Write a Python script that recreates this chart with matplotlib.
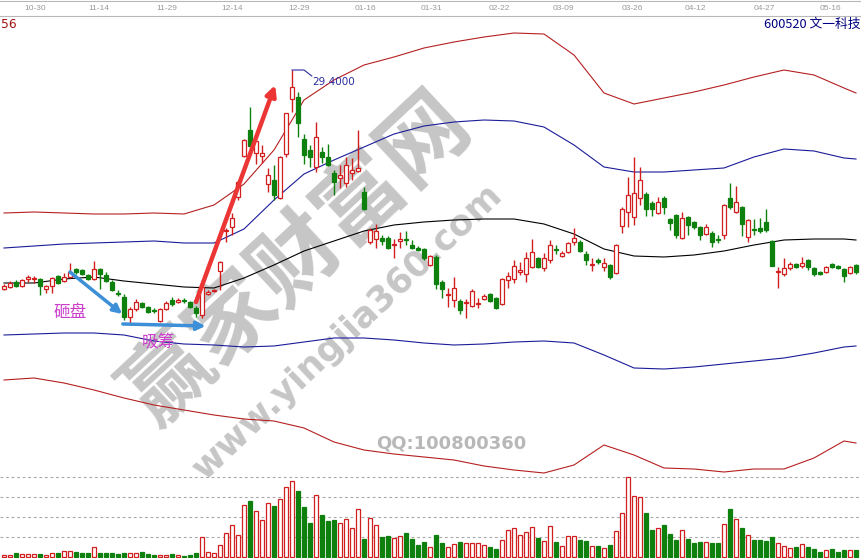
import matplotlib
matplotlib.use('Agg')
import matplotlib.pyplot as plt
from matplotlib.lines import Line2D
from matplotlib.transforms import blended_transform_factory
import numpy as np

plt.rcParams['font.family'] = ['Noto Sans CJK SC', 'DejaVu Sans']

# daily candles, oldest first
opens = [20.64, 20.72, 20.92, 20.76, 21.04, 21.04, 21.04, 20.64, 20.76, 21.16,
         20.96, 21.12, 21.44, 21.40, 21.20, 21.04, 21.44, 21.20, 20.92, 20.48,
         20.32, 19.52, 19.84, 20.08, 19.92, 19.80, 19.36, 19.84, 20.20, 20.12,
         20.20, 20.12, 19.88, 19.60, 20.44, 20.56, 21.36, 22.96, 23.12, 24.32,
         25.96, 27.00, 26.08, 25.96, 24.84, 25.00, 24.28, 26.04, 28.24, 28.32,
         26.64, 26.20, 25.52, 26.12, 25.92, 25.28, 25.08, 24.88, 25.28, 25.36,
         24.52, 22.52, 22.64, 22.68, 22.68, 22.40, 22.56, 22.64, 22.40, 22.28,
         22.24, 21.60, 21.92, 20.92, 20.40, 20.20, 20.16, 20.08, 19.96, 20.04,
         20.24, 20.44, 20.28, 20.04, 21.00, 21.04, 21.32, 21.24, 21.52, 21.88,
         21.48, 21.80, 22.24, 21.96, 22.12, 22.52, 22.52, 22.04, 21.60, 21.80,
         21.52, 21.60, 21.28, 23.16, 23.72, 23.52, 24.28, 24.44, 24.08, 23.68,
         24.28, 23.44, 23.60, 22.68, 23.52, 23.32, 23.12, 22.84, 22.88, 22.64,
         22.80, 24.28, 23.72, 23.92, 22.72, 23.04, 23.08, 23.32, 22.56, 21.32,
         21.24, 21.48, 21.64, 21.56, 21.80, 21.48, 21.32, 21.32, 21.64, 21.56,
         21.44, 21.28, 21.60]
highs = [20.84, 20.96, 21.00, 21.04, 21.20, 21.16, 21.08, 20.80, 21.12, 21.20,
         21.28, 21.68, 21.48, 21.44, 21.24, 21.76, 21.48, 21.32, 21.00, 20.60,
         20.44, 19.92, 20.24, 20.12, 19.96, 19.88, 19.88, 20.16, 20.32, 20.28,
         20.28, 20.16, 19.96, 20.72, 20.60, 20.64, 21.76, 23.08, 23.68, 25.00,
         26.64, 27.92, 26.60, 26.40, 25.48, 25.60, 25.96, 27.68, 29.40, 28.52,
         26.84, 26.40, 27.32, 26.32, 26.44, 25.40, 25.60, 25.92, 25.88, 27.00,
         24.72, 23.08, 23.24, 22.80, 22.76, 22.64, 22.92, 22.96, 22.60, 22.36,
         22.28, 22.00, 22.00, 21.00, 20.68, 21.12, 20.24, 20.24, 20.64, 20.28,
         20.44, 20.48, 20.32, 21.08, 21.32, 21.80, 21.72, 22.12, 22.64, 21.92,
         22.08, 22.60, 22.40, 22.16, 22.52, 23.08, 22.60, 22.16, 21.88, 21.88,
         21.88, 21.64, 22.44, 23.92, 25.12, 25.92, 25.52, 24.52, 24.16, 24.32,
         24.36, 23.48, 23.64, 23.72, 23.56, 23.36, 23.16, 23.24, 22.96, 22.80,
         24.04, 24.88, 24.76, 23.96, 23.44, 23.44, 23.48, 23.84, 22.60, 21.52,
         21.88, 21.72, 21.68, 21.92, 21.84, 21.52, 21.36, 21.56, 21.68, 21.60,
         21.48, 21.56, 21.64]
lows = [20.60, 20.68, 20.72, 20.72, 20.92, 20.88, 20.40, 20.48, 20.48, 20.84,
        20.92, 21.08, 21.24, 21.20, 21.00, 21.00, 20.64, 20.92, 20.56, 20.36,
        19.40, 19.24, 19.76, 19.88, 19.68, 19.68, 19.32, 19.80, 19.96, 20.08,
        20.08, 19.88, 19.52, 19.48, 20.40, 20.52, 20.60, 22.52, 22.80, 24.20,
        25.92, 26.32, 25.64, 25.68, 24.52, 24.20, 24.24, 25.92, 27.72, 26.72,
        25.64, 25.52, 25.32, 25.68, 25.56, 24.40, 24.68, 24.72, 25.00, 25.32,
        23.80, 22.44, 22.28, 22.40, 22.24, 21.88, 22.28, 22.40, 22.24, 22.16,
        21.80, 21.56, 20.64, 20.28, 19.92, 19.92, 19.64, 19.48, 19.92, 19.88,
        20.20, 20.12, 19.84, 20.00, 20.68, 20.88, 21.20, 20.92, 21.48, 21.48,
        21.36, 21.68, 22.04, 21.92, 22.08, 22.40, 22.12, 21.60, 21.36, 21.64,
        21.36, 21.04, 21.24, 22.88, 23.12, 23.20, 24.00, 23.56, 23.56, 23.64,
        23.64, 23.00, 22.68, 22.64, 22.80, 23.04, 22.60, 22.80, 22.32, 22.48,
        22.64, 23.84, 23.68, 22.76, 22.52, 22.80, 22.88, 22.92, 21.56, 20.68,
        21.16, 21.40, 21.48, 21.48, 21.40, 21.16, 21.20, 21.28, 21.48, 21.44,
        20.92, 21.24, 21.24]
closes = [20.76, 20.88, 20.76, 21.00, 21.12, 21.08, 20.76, 20.76, 21.08, 20.88,
          21.12, 21.32, 21.32, 21.24, 21.04, 21.44, 21.24, 20.96, 20.60, 20.44,
          19.52, 19.84, 20.12, 19.92, 19.72, 19.76, 19.84, 20.08, 20.04, 20.20,
          20.16, 19.92, 19.68, 20.72, 20.52, 20.60, 21.72, 23.00, 23.48, 24.92,
          26.60, 26.36, 26.56, 26.08, 25.20, 24.40, 25.92, 27.68, 28.72, 27.28,
          26.00, 25.92, 26.72, 25.92, 25.60, 24.92, 25.20, 25.60, 25.40, 25.48,
          23.84, 23.00, 22.96, 22.56, 22.28, 22.44, 22.64, 22.60, 22.28, 22.20,
          21.88, 21.96, 20.84, 20.64, 20.44, 20.68, 19.80, 20.12, 20.56, 20.08,
          20.36, 20.16, 19.88, 21.04, 21.16, 21.56, 21.40, 21.88, 22.12, 21.52,
          21.88, 22.40, 22.20, 22.08, 22.48, 22.68, 22.16, 21.80, 21.64, 21.72,
          21.68, 21.12, 22.40, 23.84, 24.40, 24.48, 25.00, 23.84, 23.84, 24.12,
          23.92, 23.28, 22.80, 23.48, 23.20, 23.12, 22.80, 23.12, 22.52, 22.60,
          24.00, 23.92, 24.12, 23.24, 23.40, 23.00, 22.96, 23.00, 21.56, 21.36,
          21.48, 21.64, 21.52, 21.68, 21.52, 21.24, 21.24, 21.52, 21.52, 21.48,
          21.16, 21.52, 21.32]
volumes = [0.2, 0.2, 0.4, 0.3, 0.3, 0.3, 0.3, 0.2, 0.4, 0.4,
           0.6, 0.6, 0.5, 0.4, 0.4, 1.0, 0.4, 0.4, 0.4, 0.3,
           0.4, 0.4, 0.4, 0.5, 0.3, 0.2, 0.2, 0.2, 0.3, 0.2,
           0.1, 0.2, 0.4, 2.0, 0.5, 0.4, 1.2, 2.4, 3.2, 2.2,
           5.2, 5.6, 4.6, 3.7, 5.4, 5.1, 5.8, 7.0, 7.6, 6.6,
           5.0, 3.4, 6.2, 4.2, 3.6, 3.7, 3.4, 3.8, 2.9, 4.8,
           1.8, 3.9, 3.2, 2.0, 2.1, 1.9, 2.1, 2.4, 1.8, 1.2,
           1.5, 1.0, 2.17, 1.37, 0.97, 1.27, 1.47, 1.37, 1.37, 1.37,
           1.17, 0.97, 0.77, 1.67, 2.67, 2.87, 2.17, 2.47, 2.97, 1.87,
           1.57, 3.07, 1.47, 1.07, 2.07, 2.07, 1.67, 1.57, 1.07, 1.07,
           0.87, 1.17, 2.57, 4.37, 7.97, 6.07, 5.97, 4.37, 2.67, 2.87,
           3.17, 2.27, 1.67, 2.67, 1.77, 1.37, 1.47, 1.47, 1.37, 1.37,
           3.27, 4.77, 3.77, 2.87, 2.17, 1.67, 1.67, 1.57, 1.97, 1.37,
           1.07, 0.87, 0.97, 1.27, 0.97, 0.77, 0.47, 0.67, 0.77, 0.47,
           0.67, 0.67, 0.67]

# band lines read every 5 sessions
band_idx = [0, 5, 10, 15, 20, 25, 30, 35, 40, 45, 50, 55, 60, 65, 70,
            75, 80, 85, 90, 95, 100, 105, 110, 115, 120, 125, 130, 135, 140, 142]
upper_red = [23.68, 23.72, 23.68, 23.64, 23.64, 23.68, 23.64, 24.00, 24.84, 26.20,
             28.20, 29.00, 29.60, 29.92, 30.28, 30.52, 30.72, 30.88, 30.84, 30.00,
             28.48, 28.04, 28.28, 28.52, 28.80, 29.12, 29.40, 29.20, 28.68, 28.48]
upper_blue = [22.28, 22.36, 22.44, 22.48, 22.52, 22.56, 22.48, 22.48, 23.04, 24.20,
              25.24, 25.80, 26.32, 26.84, 27.16, 27.32, 27.40, 27.36, 27.12, 26.40,
              25.52, 25.32, 25.32, 25.40, 25.48, 25.92, 26.24, 26.16, 25.88, 25.84]
middle = [20.88, 20.88, 21.04, 21.12, 20.96, 20.84, 20.72, 20.68, 21.08, 21.60,
          22.16, 22.56, 22.96, 23.20, 23.32, 23.40, 23.44, 23.44, 23.24, 22.84,
          22.24, 21.96, 21.92, 22.00, 22.16, 22.40, 22.60, 22.64, 22.64, 22.60]
lower_blue = [18.80, 18.84, 18.88, 18.88, 18.80, 18.56, 18.44, 18.40, 18.32, 18.36,
              18.52, 18.68, 18.68, 18.60, 18.48, 18.40, 18.44, 18.52, 18.56, 18.48,
              18.00, 17.48, 17.44, 17.52, 17.64, 17.76, 17.88, 18.08, 18.32, 18.36]
lower_red = [17.00, 17.08, 16.88, 16.60, 16.28, 16.00, 15.80, 15.60, 15.44, 15.36,
             15.08, 14.52, 14.20, 14.04, 13.92, 13.80, 13.56, 13.40, 13.28, 13.60,
             14.40, 14.00, 13.48, 13.44, 13.32, 13.44, 13.44, 13.88, 14.56, 14.48]

date_labels = ['10-30', '11-14', '11-29', '12-14', '12-29', '01-16', '01-31',
               '02-22', '03-09', '03-26', '04-12', '04-27', '05-16']
date_pos = [5.2, 15.8, 27.2, 38.0, 49.2, 60.2, 71.2, 82.5, 93.3, 104.8, 115.3, 126.7, 137.8]

RED = '#d11f1f'
GREEN = '#0d800d'

W, H = 862, 558
fig = plt.figure(figsize=(W / 100, H / 100), dpi=100)
ax = fig.add_axes([0, 83 / H, 1, 460 / H])
axv = fig.add_axes([0, 0, 1, 83 / H])
for a in (ax, axv):
    a.axis('off')
    a.patch.set_alpha(0)
    a.set_xlim(-4 / 6, 858 / 6)
ax.set_ylim(13.2, 31.6)
axv.set_ylim(-0.1, 8.2)

o = np.array(opens)
c = np.array(closes)
h = np.array(highs)
l = np.array(lows)
idx = np.arange(len(c))
up = c >= o
edge = np.where(up, RED, GREEN)
face = np.where(up, 'white', GREEN)

# bands
ax.plot(band_idx, upper_red, color='#b52020', lw=0.8, zorder=2)
ax.plot(band_idx, lower_red, color='#b52020', lw=0.8, zorder=2)
ax.plot(band_idx, upper_blue, color='#1c1c9a', lw=0.8, zorder=2)
ax.plot(band_idx, lower_blue, color='#1c1c9a', lw=0.8, zorder=2)
ax.plot(band_idx, middle, color='black', lw=0.8, zorder=2)

# candles
ax.vlines(idx, l, h, colors=edge, lw=1, zorder=3)
body = np.maximum(np.abs(c - o), 0.02)
ax.bar(idx, body, bottom=np.minimum(o, c), width=0.67, color=face,
       edgecolor=edge, lw=0.9, zorder=4)

# high label
top = int(np.argmax(h))
ax.plot([top, top + 2, top + 3.3], [h[top], h[top], h[top] - 0.24],
        color='#2a2aa0', lw=0.8, zorder=5)
ax.text(top + 3.4, h[top] - 0.48, '%.4f' % h[top], color='#2a2aa0',
        fontsize=7.5, family='DejaVu Sans', va='center', ha='left', zorder=5)

# arrows and notes
ax.annotate('', xy=(19.7, 19.64), xytext=(11.0, 21.32),
            arrowprops=dict(arrowstyle='-|>', color='#3d8fd8', lw=2.5,
                            mutation_scale=13, shrinkA=0, shrinkB=0), zorder=6)
ax.annotate('', xy=(33.6, 19.16), xytext=(19.8, 19.24),
            arrowprops=dict(arrowstyle='-|>', color='#3d8fd8', lw=2.5,
                            mutation_scale=13, shrinkA=0, shrinkB=0), zorder=6)
ax.annotate('', xy=(45.2, 28.8), xytext=(32.0, 20.12),
            arrowprops=dict(arrowstyle='-|>', color='#ec3535', lw=3.2,
                            mutation_scale=15, shrinkA=0, shrinkB=0), zorder=6)
ax.text(11.0, 19.68, '砸盘', color='#cc3fcc', fontsize=12, ha='center', va='center', zorder=6)
ax.text(25.7, 18.48, '吸筹', color='#cc3fcc', fontsize=12, ha='center', va='center', zorder=6)

# volume
for v in (2, 4, 6, 8):
    axv.axhline(v, color='#a8a8a8', lw=0.8, ls=(0, (2.5, 2.5)), zorder=1)
axv.bar(idx, volumes, width=0.72, color=face, edgecolor=edge, lw=0.9, zorder=3)

# header
fig.add_artist(Line2D([0, 1], [1 - 15.5 / H] * 2, color='#b8b8b8', lw=0.8))
fig.add_artist(Line2D([0, 1], [1 - 0.5 / H] * 2, color='#b8b8b8', lw=0.8))
tr = blended_transform_factory(ax.transData, fig.transFigure)
for p, s in zip(date_pos, date_labels):
    ax.text(p, 1 - 9 / H, s, transform=tr, color='#9a9a9a', fontsize=6,
            family='Liberation Sans', ha='center', va='center', clip_on=False)
fig.text(1 - 1 / W, 1 - 24 / H, '600520 文一科技', color='#000080',
         fontsize=9.2, ha='right', va='center')
fig.text(1 / W, 1 - 24 / H, '56', color='#a01010', fontsize=8.8,
         family='DejaVu Sans', ha='left', va='center')

# watermark
fig.text(0.346, 0.536, '赢家财富网', rotation=43, fontsize=63, color='#c6c6c6',
         fontweight='bold', ha='center', va='center', zorder=-1)
fig.text(0.403, 0.405, 'www.yingjia360.com', rotation=43.5, fontsize=25.5,
         color='#c6c6c6', fontweight='bold', family='DejaVu Sans',
         ha='center', va='center', zorder=-1)
fig.text(0.524, 0.206, 'QQ:100800360', fontsize=13, color='#b8b8b8',
         fontweight='bold', family='DejaVu Sans', ha='center', va='center', zorder=-1)

fig.savefig('out.png', dpi=100)
